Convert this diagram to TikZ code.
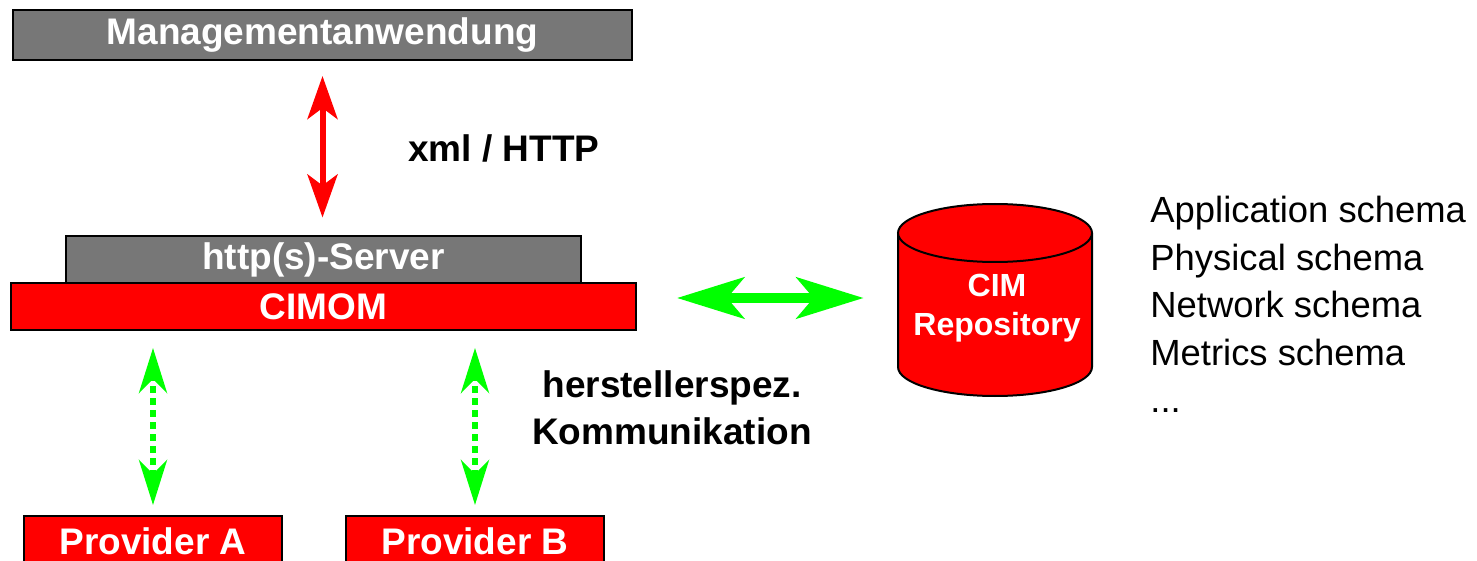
\documentclass[tikz,border=0pt]{standalone}
\usepackage{fontspec}
\setmainfont{Liberation Sans}
\usetikzlibrary{arrows.meta}
\definecolor{boxgray}{HTML}{777777}
\definecolor{cimred}{HTML}{FF0000}
\definecolor{cimgreen}{HTML}{00FF00}

\begin{document}
\begin{tikzpicture}[x=0.5pt,y=-0.5pt,
  layer/.style={draw=black, line width=1pt, inner sep=0pt, text=white, font=\fontsize{18.5}{22}\selectfont\bfseries},
  graylayer/.style={layer, fill=boxgray},
  redlayer/.style={layer, fill=cimred},
  boldlabel/.style={align=center, inner sep=0pt, font=\fontsize{18.5}{23.5}\selectfont\bfseries},
  httparrow/.style={cimred, line width=3pt, {Stealth[length=21.5pt,width=15pt,inset=5.5pt]}-{Stealth[length=21.5pt,width=15pt,inset=5.5pt]}},
  repoarrow/.style={cimgreen, line width=5pt, {Stealth[length=33.5pt,width=20.5pt,inset=8.5pt]}-{Stealth[length=33.5pt,width=20.5pt,inset=8.5pt]}},
  provarrow/.style={cimgreen, line width=3pt, dash pattern=on 3.5pt off 2.5pt, {Stealth[length=22.5pt,width=14pt,inset=7pt]}-{Stealth[length=22.5pt,width=14pt,inset=7pt]}}
]
\useasboundingbox (0,0) rectangle (1477,561);

\node[graylayer, minimum width=309.5pt, minimum height=25pt] (mgmt) at (322.5,35) {Managementanwendung};
\node[graylayer, minimum width=257.5pt, minimum height=23.5pt] (server) at (323.5,260) {http(s)-Server};
\node[redlayer, minimum width=312.5pt, minimum height=23.5pt] (cimom) at (323.5,306.5) {CIMOM};

\node[redlayer, minimum width=129pt, minimum height=25pt] (provA) at (153,541) {Provider A};
\node[redlayer, minimum width=129pt, minimum height=25pt] (provB) at (475,541) {Provider B};

% xml / HTTP
\draw[httparrow, shorten <=7.5pt, shorten >=9pt] (mgmt.south) -- (mgmt.south |- server.north);
\node[boldlabel] (xml) at (504,148) {xml / HTTP};

% repository cylinder
\fill[cimred] (898,233) -- (898,367) arc[start angle=180, end angle=0, x radius=97, y radius=29] -- (1092,233) -- cycle;
\draw[line width=1pt] (898,233) -- (898,367) arc[start angle=180, end angle=0, x radius=97, y radius=29] -- (1092,233);
\filldraw[fill=cimred, line width=1pt] (995,233) ellipse[x radius=97, y radius=29];
\node[text=white, align=center, inner sep=0pt, minimum width=97pt, font=\fontsize{16}{19.5}\selectfont\bfseries] (repo) at (997,308) {CIM\\Repository};

\draw[repoarrow, shorten <=20pt, shorten >=18pt] ([yshift=5pt]cimom.east |- repo.west) -- ([yshift=5pt]repo.west);

% provider links
\draw[provarrow, shorten <=5pt, shorten >=8.5pt] (provA.north) -- (provA.north |- cimom.south);
\draw[provarrow, shorten <=5pt, shorten >=8.5pt] (provB.north) -- (provB.north |- cimom.south);
\node[boldlabel] (komm) at (672,408) {herstellerspez.\\Kommunikation};

\node[anchor=north west, align=left, inner sep=0pt, font=\fontsize{18.2}{23.75}\selectfont] (schemas) at (1150,196) {Application schema\\Physical schema\\Network schema\\Metrics schema\\...};
\end{tikzpicture}
\end{document}
